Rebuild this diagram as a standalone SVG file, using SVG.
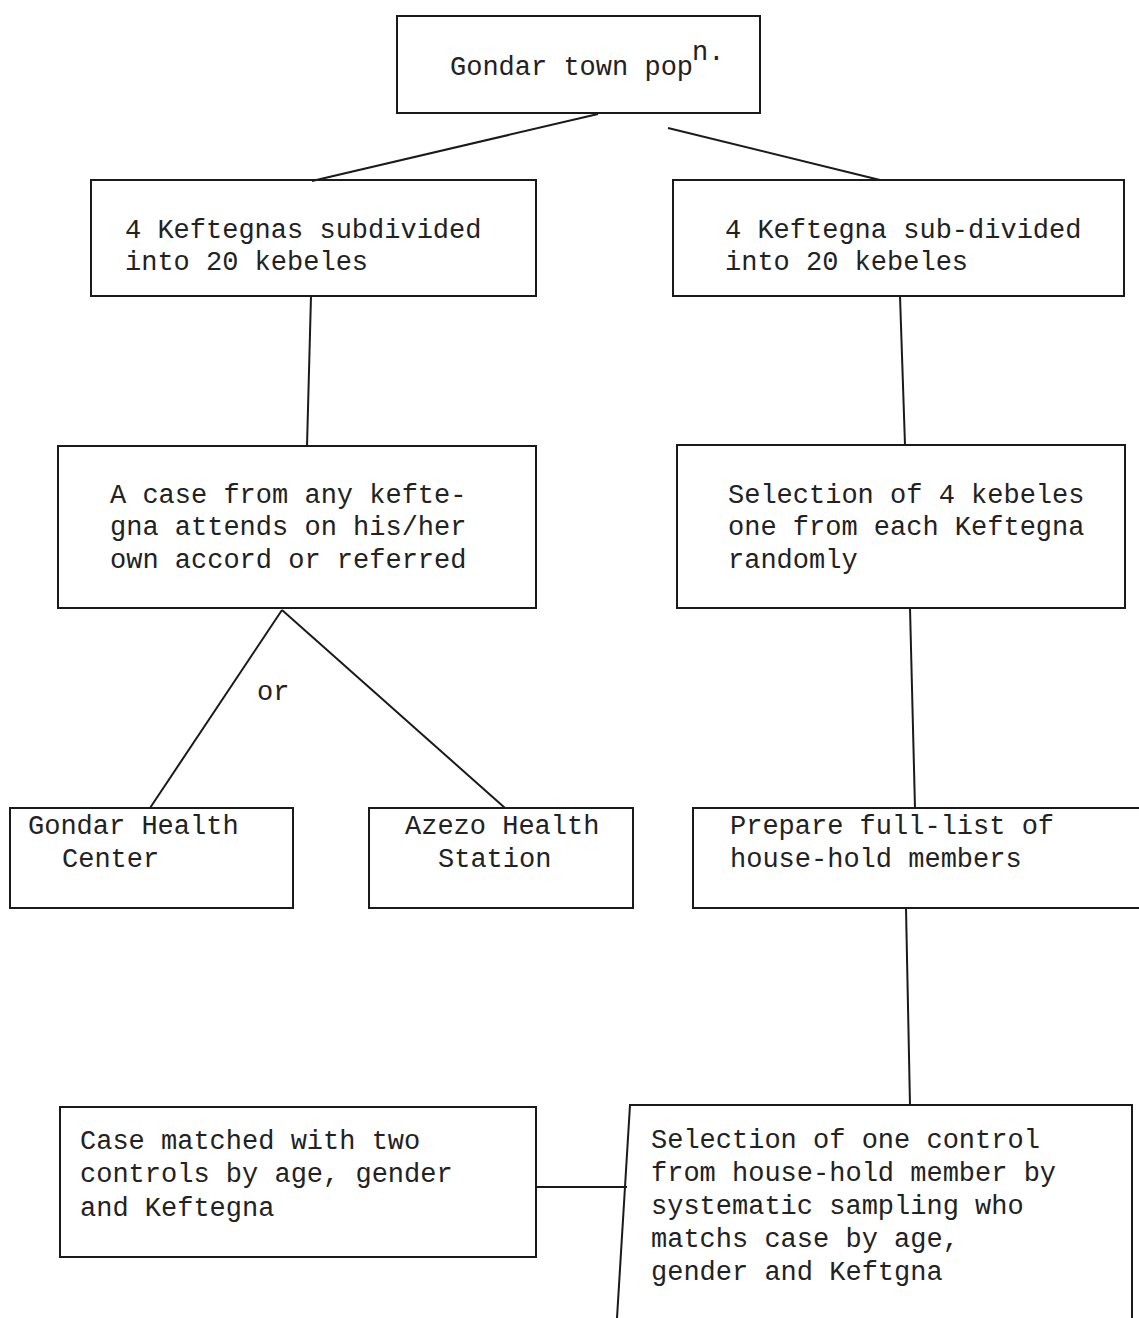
<svg xmlns="http://www.w3.org/2000/svg" width="1139" height="1318" viewBox="0 0 1139 1318">
<style>
.box{fill:none;stroke:#1a1a1a;stroke-width:2}
.ln{fill:none;stroke:#1a1a1a;stroke-width:2}
text{font-family:"Liberation Mono","DejaVu Sans Mono",monospace;font-size:27px;fill:#222}
</style>
<rect width="1139" height="1318" fill="#ffffff"/>
<g id="connectors">
<line class="ln" x1="598" y1="114" x2="312" y2="181"/>
<line class="ln" x1="668" y1="128" x2="880" y2="180"/>
<line class="ln" x1="311" y1="296" x2="307" y2="446"/>
<line class="ln" x1="900" y1="296" x2="905" y2="445"/>
<line class="ln" x1="282" y1="610" x2="150" y2="808"/>
<line class="ln" x1="282" y1="610" x2="505" y2="808"/>
<line class="ln" x1="910" y1="608" x2="915" y2="808"/>
<line class="ln" x1="906" y1="908" x2="910" y2="1105"/>
<line class="ln" x1="536" y1="1187" x2="627" y2="1187"/>
<text x="257" y="700">or</text>
</g>
<g id="n_town">
<rect class="box" x="397" y="16" width="363" height="97"/>
<text x="450" y="75">Gondar town pop</text>
<text x="692" y="60" font-size="24">n.</text>
</g>
<g id="n_kef_left">
<rect class="box" x="91" y="180" width="445" height="116"/>
<text x="125" y="238">4 Keftegnas subdivided</text>
<text x="125" y="270">into 20 kebeles</text>
</g>
<g id="n_kef_right">
<rect class="box" x="673" y="180" width="451" height="116"/>
<text x="725" y="238">4 Keftegna sub-divided</text>
<text x="725" y="270">into 20 kebeles</text>
</g>
<g id="n_case">
<rect class="box" x="58" y="446" width="478" height="162"/>
<text x="110" y="503">A case from any kefte-</text>
<text x="110" y="535">gna attends on his/her</text>
<text x="110" y="568">own accord or referred</text>
</g>
<g id="n_select_kebeles">
<rect class="box" x="677" y="445" width="448" height="163"/>
<text x="728" y="503">Selection of 4 kebeles</text>
<text x="728" y="535">one from each Keftegna</text>
<text x="728" y="568">randomly</text>
</g>
<g id="n_gondar_hc">
<rect class="box" x="10" y="808" width="283" height="100"/>
<text x="28" y="834">Gondar Health</text>
<text x="62" y="867">Center</text>
</g>
<g id="n_azezo">
<rect class="box" x="369" y="808" width="264" height="100"/>
<text x="405" y="834">Azezo Health</text>
<text x="438" y="867">Station</text>
</g>
<g id="n_prepare">
<path class="box" d="M1139 808 H693 V908 H1139"/>
<text x="730" y="834">Prepare full-list of</text>
<text x="730" y="867">house-hold members</text>
</g>
<g id="n_matched">
<rect class="box" x="60" y="1107" width="476" height="150"/>
<text x="80" y="1149">Case matched with two</text>
<text x="80" y="1182">controls by age, gender</text>
<text x="80" y="1216">and Keftegna</text>
</g>
<g id="n_select_control">
<path class="box" d="M617 1318 L630 1105 H1132 V1318"/>
<text x="651" y="1148">Selection of one control</text>
<text x="651" y="1181">from house-hold member by</text>
<text x="651" y="1214">systematic sampling who</text>
<text x="651" y="1247">matchs case by age,</text>
<text x="651" y="1280">gender and Keftgna</text>
</g>
</svg>
